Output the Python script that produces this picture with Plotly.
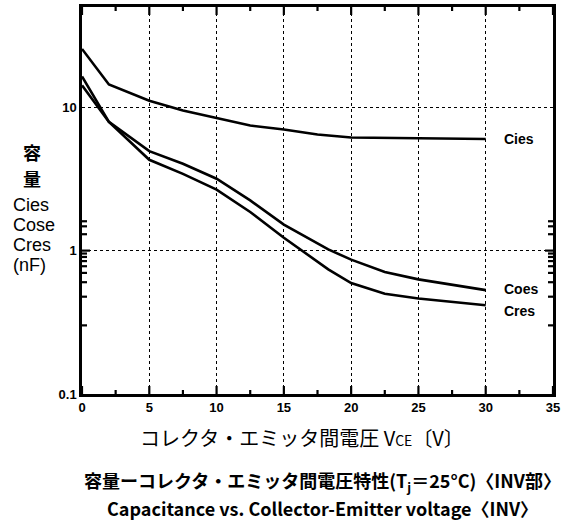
import math
import plotly.graph_objects as go

# Collector-emitter voltage VCE [V]
vce_cies = [0, 2, 5, 7.5, 10, 12.5, 15, 17.5, 20, 25, 30]
cies = [25.5, 14.4, 11.1, 9.5, 8.4, 7.45, 7.0, 6.45, 6.15, 6.05, 6.0]

vce_cr = [0, 2, 5, 7.5, 10, 12.5, 15, 18.3, 20, 22.5, 25, 30]
coes = [16.4, 7.9, 4.94, 4.03, 3.17, 2.24, 1.52, 1.02, 0.865, 0.71, 0.63, 0.53]
cres = [14.2, 7.9, 4.3, 3.43, 2.66, 1.86, 1.23, 0.74, 0.594, 0.5, 0.464, 0.416]

x_ticks = [0, 5, 10, 15, 20, 25, 30, 35]
x_minor = [2.5, 7.5, 12.5, 17.5, 22.5, 27.5, 32.5]
y_ticks = [0.1, 1, 10]
y_ticktext = ["0.1", "1", "10"]
y_minor = [m * 10 ** d for d in (-1, 0, 1) for m in range(2, 10) if m * 10 ** d < 50]

W, H = 565, 527
ML, MR, MT, MB = 82, 12, 7, 133
PW, PH = W - ML - MR, H - MT - MB

NUM = "Liberation Sans, Arial, sans-serif"
JP = "Noto Sans CJK JP, sans-serif"
SANS = "Liberation Sans, Arial, sans-serif"


def px(x):
    return (x - ML) / PW


def py(y):
    return 1 - (y - MT) / PH


line_style = dict(color="black", width=2.6)

fig = go.Figure()
fig.add_trace(go.Scatter(x=vce_cies, y=cies, mode="lines", line=line_style, name="Cies"))
fig.add_trace(go.Scatter(x=vce_cr, y=coes, mode="lines", line=line_style, name="Coes"))
fig.add_trace(go.Scatter(x=vce_cr, y=cres, mode="lines", line=line_style, name="Cres"))

# inward tick marks on all four sides of the frame (lengths in pixels -> domain fractions)
tick_line = dict(color="black", width=2.2)
for vals, ln in [(x_ticks, 8), (x_minor, 4)]:
    f = ln / PH
    for v in vals:
        fig.add_shape(type="line", xref="x", yref="y domain", x0=v, x1=v, y0=0, y1=f,
                      line=tick_line, layer="above")
        fig.add_shape(type="line", xref="x", yref="y domain", x0=v, x1=v, y0=1, y1=1 - f,
                      line=tick_line, layer="above")
for vals, ln in [([1, 10], 8), (y_minor, 5)]:
    f = ln / PW
    for v in vals:
        lv = math.log10(v)
        fig.add_shape(type="line", xref="x domain", yref="y", x0=0, x1=f, y0=lv, y1=lv,
                      line=tick_line, layer="above")
        fig.add_shape(type="line", xref="x domain", yref="y", x0=1, x1=1 - f, y0=lv, y1=lv,
                      line=tick_line, layer="above")

# curve labels at the right end of each curve (log axis -> log10 positions)
for txt, yv, shift in [("Cies", cies[-1], 0), ("Coes", coes[-1], 1), ("Cres", cres[-1], -6)]:
    fig.add_annotation(x=31.2, y=math.log10(yv), xref="x", yref="y", text="<b>" + txt + "</b>",
                       showarrow=False, xanchor="left", yanchor="middle", yshift=shift,
                       font=dict(family=NUM, size=14, color="black"))

# y-axis title block
for txt, yc in [("<b>容</b>", 152), ("<b>量</b>", 178)]:
    fig.add_annotation(x=px(32), y=py(yc), xref="paper", yref="paper", text=txt,
                       showarrow=False, xanchor="center", yanchor="middle",
                       font=dict(family=JP, size=18, color="black"))
for txt, yc in [("Cies", 205), ("Cose", 225), ("Cres", 245), ("(nF)", 265)]:
    fig.add_annotation(x=px(11), y=py(yc), xref="paper", yref="paper", text=txt,
                       showarrow=False, xanchor="left", yanchor="middle",
                       font=dict(family=SANS, size=18, color="black"))

# x-axis title
fig.add_annotation(x=px(302), y=py(437), xref="paper", yref="paper",
                   text="コレクタ・エミッタ間電圧 V<span style='font-size:14px'>CE</span>〔V〕",
                   showarrow=False, xanchor="center", yanchor="middle",
                   font=dict(family=JP, size=20, color="black"))

# captions
fig.add_annotation(x=px(322), y=py(481), xref="paper", yref="paper",
                   text="<b>容量ーコレクタ・エミッタ間電圧特性(T<sub>j</sub>＝25°C)〈INV部〉</b>",
                   showarrow=False, xanchor="center", yanchor="middle",
                   font=dict(family=JP, size=18, color="black"))
fig.add_annotation(x=px(322), y=py(508), xref="paper", yref="paper",
                   text="<b>Capacitance vs. Collector-Emitter voltage〈INV〉</b>",
                   showarrow=False, xanchor="center", yanchor="middle",
                   font=dict(family=JP, size=18, color="black"))

fig.update_layout(
    template="none",
    width=W, height=H, autosize=False,
    margin=dict(l=ML, r=MR, t=MT, b=MB),
    paper_bgcolor="white", plot_bgcolor="white",
    showlegend=False,
    xaxis=dict(
        range=[0, 35], tickvals=x_ticks, ticktext=["<b>%d</b>" % v for v in x_ticks],
        ticks="", showline=True, linecolor="black", linewidth=2.5, mirror=True,
        showgrid=True, gridcolor="black", gridwidth=1, griddash="dot",
        tickfont=dict(family=NUM, size=13, color="black", weight=700),
        zeroline=False,
    ),
    yaxis=dict(
        type="log", range=[-1, 1.69897],
        tickvals=y_ticks, ticktext=["<b>%s</b>" % t for t in y_ticktext],
        ticks="", showline=True, linecolor="black", linewidth=2.5, mirror=True,
        showgrid=True, gridcolor="black", gridwidth=1, griddash="dot",
        tickfont=dict(family=NUM, size=13, color="black", weight=700),
        zeroline=False,
    ),
)

fig.write_html("out.html")
